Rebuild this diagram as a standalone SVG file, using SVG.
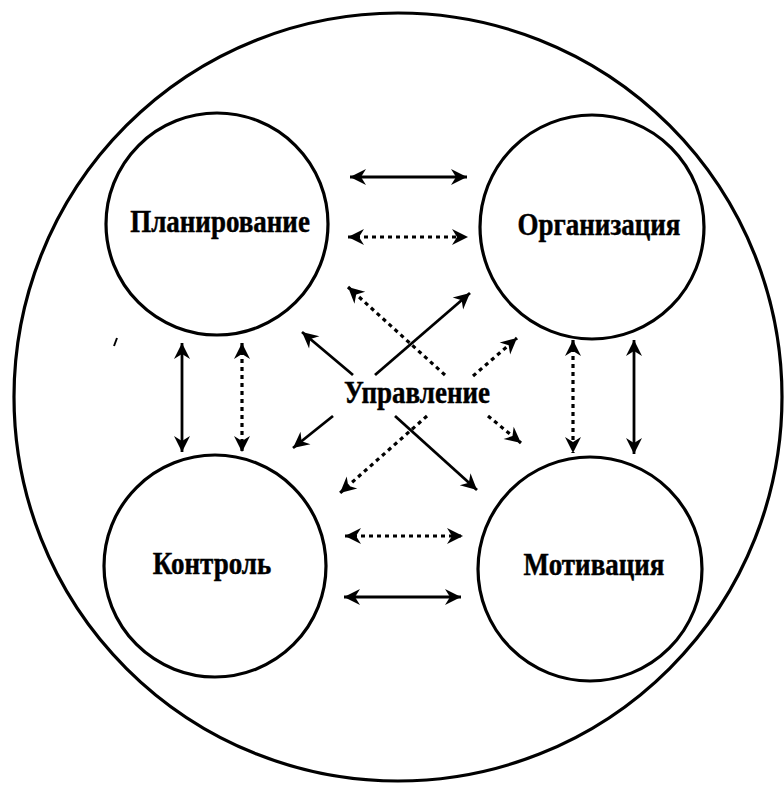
<svg xmlns="http://www.w3.org/2000/svg" width="784" height="785" viewBox="0 0 784 785">
<style>
.c{fill:none;stroke:#000;stroke-width:3.2}
.s{stroke:#000;stroke-width:2.8;fill:none}
.d{stroke:#000;stroke-width:3.2;fill:none;stroke-dasharray:4 4}
.t{font-family:"Liberation Serif","Times New Roman",serif;font-weight:bold;font-size:27px;text-anchor:middle;fill:#000;stroke:#000;stroke-width:0.4}
</style>
<defs>
<marker id="ah" viewBox="-17 -9 18 18" refX="0" refY="0" markerWidth="18" markerHeight="18" markerUnits="userSpaceOnUse" orient="auto-start-reverse">
<path d="M0,0 L-16,-8 L-11,0 L-16,8 Z" fill="#000"/>
</marker>
</defs>
<rect width="784" height="785" fill="#fff"/>
<g id="outer"><circle class="c" cx="398" cy="397" r="384"/></g>
<g id="planirovanie"><circle class="c" cx="217" cy="224" r="111"/><text class="t" transform="translate(220 232) scale(1 1.2)">Планирование</text></g>
<g id="organizatsiya"><circle class="c" cx="592" cy="227" r="112"/><text class="t" transform="translate(599 235) scale(1 1.2)">Организация</text></g>
<g id="kontrol"><circle class="c" cx="215" cy="566" r="111"/><text class="t" transform="translate(212 574) scale(1 1.2)">Контроль</text></g>
<g id="motivatsiya"><circle class="c" cx="590" cy="569" r="112"/><text class="t" transform="translate(594 575) scale(1 1.2)">Мотивация</text></g>
<g id="upravlenie"><text class="t" transform="translate(417 403) scale(1 1.2)">Управление</text></g>
<g id="connectors">
<line class="s" x1="350" y1="177" x2="467" y2="177" marker-start="url(#ah)" marker-end="url(#ah)"/>
<line class="d" x1="348" y1="237" x2="468" y2="237" marker-start="url(#ah)" marker-end="url(#ah)"/>
<line class="d" x1="345" y1="536" x2="463" y2="536" marker-start="url(#ah)" marker-end="url(#ah)"/>
<line class="s" x1="344" y1="597" x2="461" y2="597" marker-start="url(#ah)" marker-end="url(#ah)"/>
<line class="s" x1="182" y1="343" x2="182" y2="452" marker-start="url(#ah)" marker-end="url(#ah)"/>
<line class="d" x1="242" y1="343" x2="242" y2="452" marker-start="url(#ah)" marker-end="url(#ah)"/>
<line class="d" x1="573" y1="340" x2="573" y2="453" marker-start="url(#ah)" marker-end="url(#ah)"/>
<line class="s" x1="634" y1="340" x2="634" y2="454" marker-start="url(#ah)" marker-end="url(#ah)"/>
<line class="d" x1="445" y1="375" x2="348" y2="287" marker-end="url(#ah)"/>
<line class="s" x1="375" y1="375" x2="470" y2="293" marker-end="url(#ah)"/>
<line class="s" x1="353" y1="375" x2="302" y2="332" marker-end="url(#ah)"/>
<line class="d" x1="473" y1="376" x2="517" y2="338" marker-end="url(#ah)"/>
<line class="s" x1="333" y1="416" x2="293" y2="448" marker-end="url(#ah)"/>
<line class="d" x1="427" y1="416" x2="340" y2="493" marker-end="url(#ah)"/>
<line class="s" x1="395" y1="416" x2="477" y2="490" marker-end="url(#ah)"/>
<line class="d" x1="488" y1="416" x2="521" y2="443" marker-end="url(#ah)"/>
</g>
<line x1="114" y1="346" x2="117" y2="338" stroke="#000" stroke-width="2"/>
</svg>
